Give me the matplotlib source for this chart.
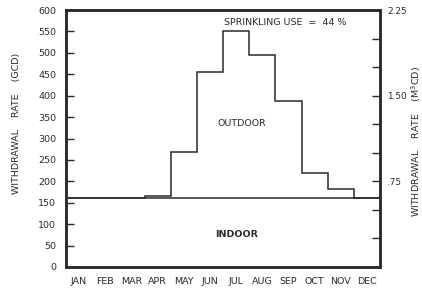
import matplotlib
matplotlib.use("Agg")
import matplotlib.pyplot as plt
import numpy as np

months = ["JAN", "FEB", "MAR", "APR", "MAY", "JUN", "JUL", "AUG", "SEP", "OCT", "NOV", "DEC"]
total_gcd = [160, 160, 161, 166, 268, 455, 552, 495, 388, 219, 182, 162]
indoor_gcd = [160, 160, 161, 162, 162, 162, 162, 162, 162, 162, 162, 162]
left_ticks = list(range(0, 601, 50))
right_ticks_m3 = [0.25, 0.5, 0.75, 1.0, 1.25, 1.5, 1.75, 2.0, 2.25]
right_labels = {0.75: ".75", 1.5: "1.50", 2.25: "2.25"}
GCD_PER_M3CD = 600 / 2.25

ink = "#2a2a2a"
fs = 6.8

fig = plt.figure(figsize=(4.22, 2.88), dpi=100)
ax = fig.add_axes([66/422, 21/288, 314/422, 257/288])
edges = np.arange(len(months) + 1)
ax.stairs(total_gcd, edges, baseline=None, color=ink, lw=1.1)
ax.stairs(indoor_gcd, edges, baseline=None, color=ink, lw=1.1)

ax.set_xlim(0, 12)
ax.set_ylim(0, 600)
ax.set_xticks(np.arange(12) + 0.5)
ax.set_xticklabels(months, fontsize=fs, color=ink)
ax.tick_params(axis="x", length=0, pad=7)
ax.set_yticks(left_ticks)
ax.set_yticklabels([str(v) for v in left_ticks], fontsize=fs, color=ink)
ax.tick_params(axis="y", direction="in", length=6, width=1, pad=7, colors=ink, labelcolor=ink)
for s in ax.spines.values():
    s.set_linewidth(1.8)
    s.set_color(ink)

ax2 = ax.twinx()
ax2.set_ylim(0, 600 / GCD_PER_M3CD)
ax2.set_yticks(right_ticks_m3)
ax2.set_yticklabels([right_labels.get(v, "") for v in right_ticks_m3], fontsize=6.4, color=ink)
ax2.tick_params(axis="y", direction="in", length=6, width=1, pad=5, colors=ink, labelcolor=ink)
for s in ax2.spines.values():
    s.set_linewidth(1.8)
    s.set_color(ink)

fig.text(17/422, 1 - 123/288, "WITHDRAWAL    RATE    (GCD)", rotation=90, ha="center", va="center",
         fontsize=fs, color=ink)
fig.text(416/422, 1 - 141/288, "WITHDRAWAL    RATE    (M$^3$CD)", rotation=90, ha="center", va="center",
         fontsize=fs, color=ink)

ax.text((224 - 66) / 314 * 12, 570, "SPRINKLING USE  =  44 %", fontsize=fs, color=ink, ha="left", va="center")
ax.text(6.73, 334, "OUTDOOR", fontsize=fs, color=ink, ha="center", va="center")
ax.text(6.52, 75, "INDOOR", fontsize=fs, color=ink, ha="center", va="center", fontweight="bold")

fig.savefig("out.png", dpi=100)
